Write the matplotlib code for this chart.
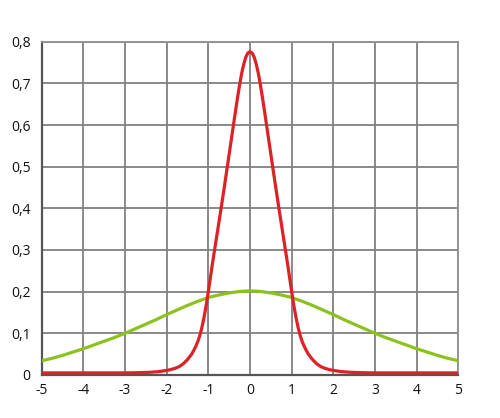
import matplotlib
matplotlib.use('Agg')
import matplotlib.pyplot as plt

# red curve (narrow peak), right half, mirrored
red_half_x = [0.00, 0.05, 0.10, 0.15, 0.20, 0.25, 0.30, 0.35, 0.40, 0.45, 0.50,
              0.55, 0.60, 0.65, 0.70, 0.75, 0.80, 0.85, 0.90, 0.95, 1.00,
              1.05, 1.10, 1.15, 1.20, 1.25, 1.30, 1.35, 1.40, 1.50, 1.60,
              1.70, 1.80, 1.90, 2.00, 2.20, 2.40, 2.70, 3.00, 5.00]
red_half_y = [0.776, 0.773, 0.763, 0.746, 0.724, 0.696, 0.665, 0.632, 0.598, 0.564, 0.530,
              0.496, 0.462, 0.429, 0.396, 0.364, 0.332, 0.300, 0.268, 0.234, 0.200,
              0.168, 0.140, 0.116, 0.096, 0.081, 0.069, 0.059, 0.050, 0.037, 0.027,
              0.020, 0.016, 0.013, 0.011, 0.008, 0.0065, 0.0055, 0.005, 0.005]
red_x = [-v for v in red_half_x[::-1]] + red_half_x[1:]
red_y = red_half_y[::-1] + red_half_y[1:]

# green curve (wide, flat)
green_half_x = [0, 0.25, 0.5, 0.75, 1, 1.25, 1.5, 1.75, 2, 2.25, 2.5, 2.75,
                3, 3.25, 3.5, 3.75, 4, 4.25, 4.5, 4.75, 5]
green_half_y = [0.202, 0.2005, 0.197, 0.192, 0.186, 0.177, 0.167, 0.156, 0.145, 0.133, 0.122, 0.111,
                0.100, 0.090, 0.081, 0.072, 0.063, 0.055, 0.047, 0.040, 0.034]
green_x = [-v for v in green_half_x[::-1]] + green_half_x[1:]
green_y = green_half_y[::-1] + green_half_y[1:]

x_ticks = [-5, -4, -3, -2, -1, 0, 1, 2, 3, 4, 5]
y_ticks = [0, 0.1, 0.2, 0.3, 0.4, 0.5, 0.6, 0.7, 0.8]
y_labels = ['0', '0,1', '0,2', '0,3', '0,4', '0,5', '0,6', '0,7', '0,8']

plt.rcParams['font.family'] = ['Open Sans', 'DejaVu Sans']

fig = plt.figure(figsize=(5, 4.18), dpi=100)
ax = fig.add_axes([0.0833, 0.1029, 0.8334, 0.7974])

ax.plot(green_x, green_y, color='#8cc21e', lw=2.3, solid_capstyle='butt', zorder=3)
ax.plot(red_x, red_y, color='#dd2227', lw=2.3, solid_capstyle='butt', zorder=4)

ax.set_xlim(-5, 5)
ax.set_ylim(0, 0.8)
ax.set_xticks(x_ticks)
ax.set_xticklabels([str(t) for t in x_ticks])
ax.set_yticks(y_ticks)
ax.set_yticklabels(y_labels)
ax.tick_params(length=0, labelsize=10, colors='#111111')
ax.tick_params(axis='y', pad=8)
ax.tick_params(axis='x', pad=6)

ax.grid(True, color='#808080', lw=1.3)
ax.set_axisbelow(True)
for s in ['top', 'right']:
    ax.spines[s].set_color('#909090')
    ax.spines[s].set_linewidth(1.3)
for s in ['left', 'bottom']:
    ax.spines[s].set_color('#555555')
    ax.spines[s].set_linewidth(1.6)

fig.savefig('out.png', dpi=100)
